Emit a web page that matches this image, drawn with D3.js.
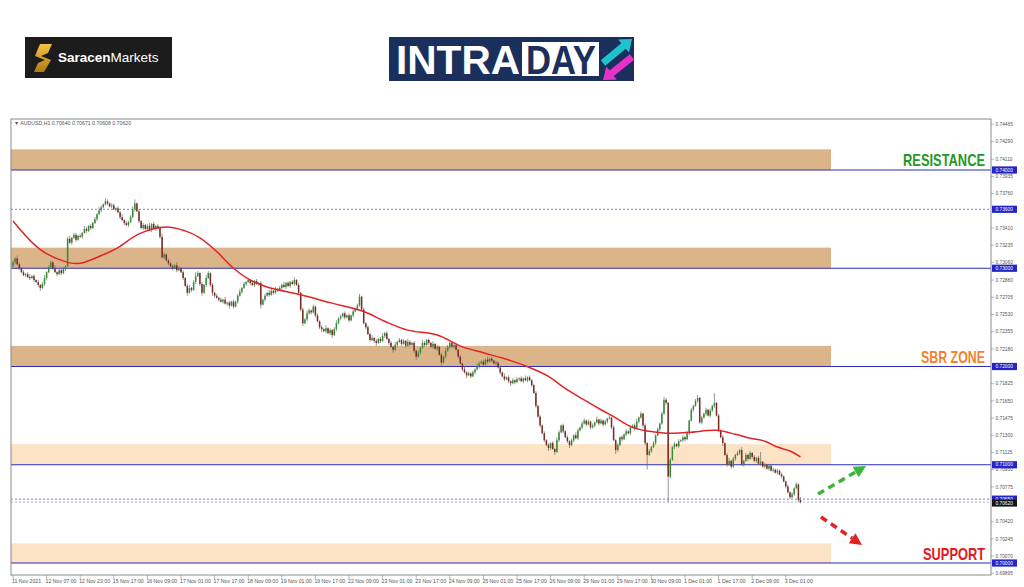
<!DOCTYPE html>
<html><head><meta charset="utf-8">
<script src="https://cdn.jsdelivr.net/npm/d3@7"></script>
<style>body{margin:0;background:#fff}svg{display:block}text{font-family:"Liberation Sans",Arial,sans-serif}</style>
</head><body><svg id="c" width="1024" height="587"></svg>
<script>
// ---------------- DATA ----------------
const symbol = "AUDUSD,H1";
const PIP = 0.0001;
const firstOpen = .7302;
// hourly closes (16 bars per row)
const closes = [
.7306,.7310,.7304,.7300,.7296,.7293,.7294,.7291,.7290,.7292,.7288,.7286,.7283,.7280,.7284,.7290,
.7296,.7301,.7306,.7300,.7296,.7294,.7298,.7295,.7299,.7302,.7330,.7326,.7331,.7334,.7329,.7333,
.7332,.7336,.7340,.7338,.7343,.7341,.7346,.7350,.7355,.7359,.7362,.7365,.7368,.7366,.7363,.7364,
.7360,.7361,.7357,.7352,.7349,.7346,.7344,.7347,.7352,.7360,.7366,.7358,.7348,.7341,.7344,.7340,
.7343,.7339,.7345,.7340,.7343,.7341,.7332,.7311,.7314,.7308,.7305,.7302,.7300,.7303,.7298,.7300,
.7296,.7290,.7282,.7275,.7280,.7278,.7286,.7292,.7295,.7284,.7275,.7283,.7290,.7295,.7283,.7275,
.7272,.7270,.7268,.7266,.7268,.7264,.7265,.7262,.7266,.7261,.7266,.7272,.7276,.7280,.7284,.7286,
.7288,.7285,.7283,.7287,.7284,.7285,.7263,.7268,.7272,.7275,.7273,.7277,.7275,.7279,.7278,.7280,
.7283,.7281,.7285,.7282,.7286,.7284,.7288,.7283,.7275,.7258,.7244,.7248,.7254,.7257,.7255,.7261,
.7252,.7246,.7240,.7238,.7236,.7239,.7234,.7237,.7232,.7238,.7244,.7249,.7251,.7254,.7250,.7252,
.7247,.7252,.7256,.7259,.7262,.7271,.7258,.7244,.7240,.7233,.7227,.7229,.7226,.7224,.7228,.7226,
.7231,.7234,.7228,.7224,.7220,.7217,.7222,.7225,.7227,.7223,.7226,.7221,.7225,.7222,.7224,.7216,
.7210,.7214,.7219,.7224,.7222,.7227,.7224,.7220,.7223,.7218,.7220,.7212,.7204,.7210,.7216,.7220,
.7224,.7220,.7222,.7217,.7210,.7203,.7197,.7194,.7191,.7193,.7190,.7194,.7197,.7200,.7203,.7205,
.7202,.7207,.7205,.7208,.7206,.7203,.7204,.7199,.7194,.7190,.7187,.7189,.7185,.7183,.7186,.7184,
.7187,.7188,.7185,.7188,.7186,.7189,.7186,.7181,.7173,.7160,.7149,.7140,.7132,.7125,.7120,.7117,
.7122,.7116,.7113,.7125,.7133,.7140,.7134,.7128,.7124,.7120,.7125,.7130,.7127,.7135,.7138,.7142,
.7145,.7141,.7144,.7138,.7140,.7143,.7146,.7142,.7145,.7141,.7144,.7147,.7148,.7138,.7125,.7115,
.7120,.7128,.7126,.7131,.7134,.7132,.7138,.7140,.7137,.7144,.7148,.7152,.7140,.7122,.7110,.7114,
.7118,.7122,.7130,.7136,.7142,.7152,.7166,.7163,.7088,.7105,.7118,.7121,.7119,.7124,.7125,.7128,
.7126,.7132,.7145,.7156,.7160,.7165,.7168,.7143,.7148,.7152,.7156,.7150,.7155,.7160,.7163,.7150,
.7135,.7128,.7122,.7110,.7100,.7104,.7098,.7106,.7110,.7112,.7115,.7100,.7104,.7110,.7106,.7112,
.7108,.7104,.7107,.7101,.7103,.7098,.7100,.7096,.7099,.7094,.7095,.7092,.7094,.7090,.7088,.7083,
.7078,.7072,.7067,.7070,.7076,.7080,.7064,.7062];
// upper / lower shadow lengths in pips
const wickUp = [
2,1,3,2,1,2,1,2,3,1,2,1,2,1,2,3, 1,2,2,1,3,1,2,1,2,1,2,3,1,2,2,1,
2,1,3,2,1,2,1,2,1,3,2,1,3,2,1,2, 2,1,2,1,3,1,2,1,2,3,4,1,2,1,2,1,
2,3,1,2,1,2,1,3,2,1,2,1,2,1,3,2, 1,2,1,2,3,1,2,4,2,1,2,1,3,2,1,2,
1,2,1,2,1,3,1,2,1,2,1,2,3,1,2,1, 2,1,3,1,2,1,2,1,2,1,3,2,1,2,1,2,
1,3,1,2,1,2,3,1,2,1,2,1,3,2,1,2, 1,2,1,2,1,3,1,2,1,2,3,1,2,1,2,1,
2,1,2,1,2,3,1,2,1,2,1,3,1,2,1,2, 3,1,2,1,2,1,3,1,2,1,2,1,3,2,1,2,
1,2,1,3,2,1,2,1,3,1,2,1,2,1,3,2, 1,2,1,2,1,2,1,3,1,2,1,2,1,3,2,1,
2,1,3,1,2,1,2,1,2,1,3,1,2,1,2,1, 2,1,2,1,3,1,2,1,1,2,1,2,1,2,1,2,
1,2,1,3,2,1,2,1,2,1,2,1,3,2,1,2, 2,1,2,1,2,1,3,1,2,1,2,1,3,1,2,1,
2,1,2,1,2,1,2,1,2,3,1,2,1,2,1,2, 1,2,1,2,1,2,3,2,1,2,1,2,1,2,1,2,
1,2,1,2,1,2,3,1,2,1,2,1,2,1,10,1, 2,1,2,1,2,3,1,2,1,2,1,3,1,2,1,2,
1,2,1,2,10,1,2,1,2,1,2,1,2,1,2,1, 1,2,1,2,1,2,1,3.1];
const wickDn = [
1,2,1,2,1,1,2,1,2,1,2,1,2,3,1,2, 2,1,1,2,1,2,1,2,1,2,1,1,2,1,2,1,
1,2,1,2,1,2,1,1,2,1,2,1,1,2,1,2, 1,2,1,2,1,2,1,2,1,1,2,1,2,1,2,1,
2,1,2,1,2,1,2,1,2,1,2,1,2,1,2,1, 1,2,1,3,1,2,1,2,1,2,3,1,2,1,2,3,
2,1,2,1,2,1,2,3,1,2,1,2,1,2,1,2, 1,2,1,2,1,2,4,1,2,1,2,1,2,1,2,1,
2,1,2,1,2,1,2,1,2,2,3,1,2,1,2,1, 2,1,2,3,1,2,1,2,3,1,2,1,2,1,2,1,
2,1,2,1,2,1,2,1,2,1,2,1,2,3,1,2, 1,2,1,2,1,3,1,2,1,2,1,2,1,2,1,2,
3,1,2,1,2,1,2,1,2,1,2,1,3,1,2,1, 2,1,2,1,2,1,2,1,3,1,2,1,2,1,2,1,
2,1,2,1,2,1,2,1,2,1,2,1,2,3,1,2, 1,2,1,2,1,2,1,2,1,2,1,2,1,2,1,3,
2,1,3,1,2,1,2,1,2,3,1,2,1,2,1,2, 1,2,1,2,1,2,1,2,1,2,1,2,1,2,1,4,
2,1,2,1,2,1,2,1,2,1,2,1,2,2,15,1, 2,1,2,1,2,1,1,2,26,2,1,2,1,2,1,2,
2,1,2,1,2,1,2,1,2,1,2,1,2,1,2,1, 2,1,3,1,2,1,2,1,2,1,2,1,2,1,2,1,
2,1,2,1,2,1,2,1,2,1,2,1,2,1,2,1, 2,1,2,1,2,1,2,1.2];
// moving average, read at selected bars
const maBars = [0,13,26,32,41,50,60,73,82,89,97,105,113,121,137,151,167,177,188,202,214,224,237,246,255,262,272,280,286,295,303,311,322,335,344,351,358,364,370,375];
const maVals = [.7348,.7319,.7306,.7305,.7312,.7321,.7335,.7342,.7338,.7331,.7317,.7300,.7288,.7281,.7273,.7265,.7256,.7246,.7237,.7232,.7220,.7214,.7206,.7199,.7190,.7179,.7166,.7156,.7149,.7138,.7134,.7132,.7133,.7135,.7131,.7127,.7124,.7118,.7114,.7108];
// time axis
const timeLabels = ["11 Nov 2021","12 Nov 07:00","12 Nov 23:00","15 Nov 17:00","16 Nov 09:00","17 Nov 01:00","17 Nov 17:00","18 Nov 09:00","19 Nov 01:00","19 Nov 17:00","22 Nov 09:00","23 Nov 01:00","23 Nov 17:00","24 Nov 09:00","25 Nov 01:00","25 Nov 17:00","26 Nov 09:00","29 Nov 01:00","29 Nov 17:00","30 Nov 09:00","1 Dec 01:00","1 Dec 17:00","2 Dec 09:00","3 Dec 01:00"];
const timeLabelBars = [0,16,32,48,64,80,96,112,128,144,160,176,192,208,224,240,256,272,288,304,320,336,352,368];
// price axis
const priceTicks = ["0.74465","0.74290","0.74110","0.73935","0.73760","0.73410","0.73235","0.73060","0.72880","0.72705","0.72530","0.72355","0.72180","0.71825","0.71650","0.71475","0.71300","0.71125","0.70950","0.70775","0.70420","0.70245","0.70070","0.69895"];
const levelPrices = [0.74000,0.73000,0.72000,0.71000,0.70000];
const dottedLevels = [0.73600,0.70650];
const bidPrice = 0.70620;
const zoneLow  = [0.7400,0.7300,0.7200,0.7100,0.7000];
const zoneHigh = [0.7421,0.7321,0.7221,0.7121,0.7020];
const zoneKind = ["strong","strong","strong","soft","soft"];
const zoneNames = [["RESISTANCE",0.7400],["SBR ZONE",0.7200],["SUPPORT",0.7000]];

// ---------------- LAYOUT ----------------
const svg = d3.select("#c");
const L=11, R=991, T=119, B=575;
const y = d3.scaleLinear().domain([0.69878,0.74519]).range([B,T]);
const x = d3.scaleLinear().domain([0,375]).range([13,800.5]);

// logos
const sar = svg.append("g");
sar.append("rect").attr("x",25).attr("y",37).attr("width",147).attr("height",41).attr("fill","#1c1c1c");
const gold = svg.append("defs").append("linearGradient").attr("id","gold").attr("x1",0).attr("y1",0).attr("x2",0).attr("y2",1);
gold.append("stop").attr("offset","0").attr("stop-color","#f6c343");
gold.append("stop").attr("offset","1").attr("stop-color","#b07a12");
sar.append("path").attr("d","M40,44 L52,44 L48,53 L41,56 L51,60 L44,72 L34,72 L38,63 L45,60 L35,56 Z").attr("fill","url(#gold)");
const st = sar.append("text").attr("x",58).attr("y",62).attr("fill","#fff").attr("font-size",13.5);
st.append("tspan").attr("font-weight","bold").text("Saracen");
st.append("tspan").text("Markets");

const ida = svg.append("g");
ida.append("rect").attr("x",389).attr("y",37).attr("width",245).attr("height",44).attr("fill","#1b2f5c");
ida.append("rect").attr("x",522).attr("y",42).attr("width",77).attr("height",34).attr("fill","#fff");
ida.append("text").attr("x",396).attr("y",74).attr("fill","#fff").attr("font-weight","bold").attr("font-size",41)
  .attr("textLength",124).attr("lengthAdjust","spacingAndGlyphs").text("INTRA");
ida.append("text").attr("x",526).attr("y",74).attr("fill","#1b2f5c").attr("font-weight","bold").attr("font-size",41)
  .attr("textLength",70).attr("lengthAdjust","spacingAndGlyphs").text("DAY");
function arrowPoly(x1,y1,x2,y2,sw,hw,hl){
  const dx=x2-x1, dy=y2-y1, len=Math.hypot(dx,dy), ux=dx/len, uy=dy/len, px=-uy, py=ux;
  const bx=x2-ux*hl, by=y2-uy*hl;
  return [[x1+px*sw/2,y1+py*sw/2],[bx+px*sw/2,by+py*sw/2],[bx+px*hw/2,by+py*hw/2],[x2,y2],
          [bx-px*hw/2,by-py*hw/2],[bx-px*sw/2,by-py*sw/2],[x1-px*sw/2,y1-py*sw/2]].map(p=>p.join(",")).join(" ");
}
ida.append("polygon").attr("points",arrowPoly(603,63,632,39,7,17,11)).attr("fill","#1fc3cc");
ida.append("polygon").attr("points",arrowPoly(632,57,603,80,7,17,11)).attr("fill","#e532c8");

// zones
svg.append("g").selectAll("rect").data(zoneLow).join("rect")
  .attr("x",L).attr("width",831-L)
  .attr("y",(d,i)=>y(zoneHigh[i])).attr("height",(d,i)=>y(d)-y(zoneHigh[i]))
  .attr("fill",(d,i)=>zoneKind[i]==="strong"?"#dbb589":"#fde3c5");

// levels
svg.append("g").selectAll("line").data(levelPrices).join("line")
  .attr("x1",L).attr("x2",R).attr("y1",d=>y(d)).attr("y2",d=>y(d))
  .attr("stroke","#2d2db8").attr("stroke-width",1.2);
svg.append("g").selectAll("line").data(dottedLevels).join("line")
  .attr("x1",L).attr("x2",R).attr("y1",d=>y(d)).attr("y2",d=>y(d))
  .attr("stroke","#6060c8").attr("stroke-width",0.8).attr("stroke-dasharray","2,2");
svg.append("line").attr("x1",L).attr("x2",R).attr("y1",y(bidPrice)).attr("y2",y(bidPrice))
  .attr("stroke","#9090a8").attr("stroke-width",0.7).attr("stroke-dasharray","2,2");

// candles
const bars = closes.map((c,i)=>{
  const o = i===0?firstOpen:closes[i-1];
  return {i,o,c,hi:Math.max(o,c)+wickUp[i]*PIP,lo:Math.min(o,c)-wickDn[i]*PIP};
});
const cg = svg.append("g");
cg.selectAll("line").data(bars).join("line")
  .attr("x1",d=>x(d.i)).attr("x2",d=>x(d.i)).attr("y1",d=>y(d.hi)).attr("y2",d=>y(d.lo))
  .attr("stroke","#6a6a6a").attr("stroke-width",0.7);
cg.selectAll("rect").data(bars).join("rect")
  .attr("x",d=>x(d.i)-0.75).attr("width",1.5)
  .attr("y",d=>y(Math.max(d.o,d.c))).attr("height",d=>Math.max(0.8,Math.abs(y(d.o)-y(d.c))))
  .attr("fill",d=>d.c>=d.o?"#2f8f35":"#7a2a22");

// moving average
const ma = maBars.map((b,i)=>[b,maVals[i]]);
svg.append("path").datum(ma)
  .attr("d",d3.line().x(d=>x(d[0])).y(d=>y(d[1])).curve(d3.curveCatmullRom.alpha(0.5)))
  .attr("fill","none").attr("stroke","#e02424").attr("stroke-width",1.5);

// frame
svg.append("rect").attr("x",L).attr("y",T).attr("width",R-L).attr("height",B-T)
  .attr("fill","none").attr("stroke","#8a8a8a").attr("stroke-width",1);

// price axis
const pa = svg.append("g").attr("font-size",4.8).attr("fill","#555");
pa.selectAll("line").data(priceTicks).join("line")
  .attr("x1",R).attr("x2",R+3).attr("y1",d=>y(+d)).attr("y2",d=>y(+d)).attr("stroke","#888").attr("stroke-width",0.6);
pa.selectAll("text").data(priceTicks).join("text")
  .attr("x",R+4.5).attr("y",d=>y(+d)+1.7).text(d=>d);
const hl = svg.append("g").attr("font-size",4.8);
levelPrices.concat(dottedLevels).forEach(p=>{
  hl.append("rect").attr("x",R+1).attr("y",y(p)-3.6).attr("width",25).attr("height",7.2).attr("fill","#2424c8");
  hl.append("text").attr("x",R+4.5).attr("y",y(p)+1.7).attr("fill","#fff").text(p.toFixed(5));
});
hl.append("rect").attr("x",R+1).attr("y",y(bidPrice)-2.5).attr("width",25).attr("height",7).attr("fill","#151515");
hl.append("text").attr("x",R+4.5).attr("y",y(bidPrice)+2.8).attr("fill","#fff").text(bidPrice.toFixed(5));

// time axis
const ta = svg.append("g").attr("font-size",5.2).attr("fill","#555");
ta.selectAll("line").data(timeLabelBars).join("line")
  .attr("x1",d=>x(d)).attr("x2",d=>x(d)).attr("y1",B).attr("y2",B+4).attr("stroke","#888").attr("stroke-width",0.6);
ta.selectAll("text").data(timeLabels).join("text")
  .attr("x",(d,i)=>x(timeLabelBars[i])-1).attr("y",B+7.5).text(d=>d);

// header
const last = bars[bars.length-1];
svg.append("text").attr("x",14).attr("y",125).attr("font-size",5.2).attr("fill","#555")
  .text("▼ "+symbol+"  "+[last.o,last.hi,last.lo,last.c].map(v=>v.toFixed(5)).join(" "));

// zone names (horizontally condensed to the reference width)
const nameColor = {"RESISTANCE":"#1f9a24","SBR ZONE":"#f4822e","SUPPORT":"#e5161c"};
const nameLen = {"RESISTANCE":82,"SBR ZONE":64,"SUPPORT":62};
zoneNames.forEach(([name,p])=>{
  const g = svg.append("g");
  const t = g.append("text").attr("x",0).attr("y",0).attr("text-anchor","end")
    .attr("font-size",16.5).attr("font-weight","bold").attr("fill",nameColor[name]).text(name);
  const w = t.node().getComputedTextLength();
  g.attr("transform",`translate(985,${y(p)-3.5}) scale(${nameLen[name]/w},1)`);
});

// scenario arrows
function dashArrow(x1,y1,x2,y2,col){
  const dx=x2-x1, dy=y2-y1, len=Math.hypot(dx,dy), ux=dx/len, uy=dy/len;
  const hl=12, bx=x2-ux*hl, by=y2-uy*hl;
  svg.append("line").attr("x1",x1).attr("y1",y1).attr("x2",bx).attr("y2",by)
    .attr("stroke",col).attr("stroke-width",3.5).attr("stroke-dasharray","7,5");
  svg.append("polygon").attr("points",[[x2,y2],[bx-uy*6,by+ux*6],[bx+uy*6,by-ux*6]].map(p=>p.join(",")).join(" ")).attr("fill",col);
}
dashArrow(818,494,866,466,"#3cb53c");
dashArrow(821,517,862,545,"#e42222");
</script></body></html>
